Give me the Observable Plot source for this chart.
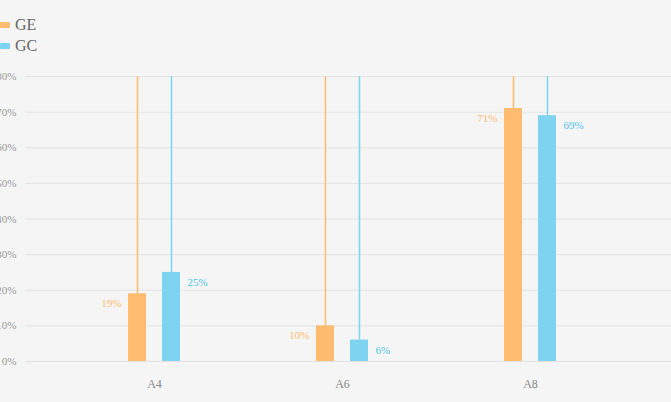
<!DOCTYPE html>
<html>
<head>
<meta charset="utf-8">
<script src="https://cdn.jsdelivr.net/npm/d3@7"></script>
<script src="https://cdn.jsdelivr.net/npm/@observablehq/plot@0.6"></script>
<style>
  html, body { margin: 0; padding: 0; background: #f5f5f5; }
  #wrap { position: relative; width: 671px; height: 402px; overflow: hidden; background: #f5f5f5; font-family: "Liberation Serif", "DejaVu Serif", serif; }
  #legend { position: relative; height: 65px; }
  .item { position: absolute; left: 0; display: flex; align-items: center; font-size: 16px; color: #666; }
  .sw { width: 10px; height: 6px; margin-right: 5px; border-radius: 1px; }
  svg { overflow: visible; }
</style>
</head>
<body>
<div id="wrap">
  <div id="legend"></div>
  <div id="chart"></div>
</div>
<script>
const categories = ["A4", "A6", "A8"];
const seriesNames = ["GE", "GC"];
const geValues = [19, 10, 71];
const gcValues = [25, 6, 69];
const yTicks = [0, 10, 20, 30, 40, 50, 60, 70, 80];
const colors = {GE: "#ffbb6e", GC: "#7dd3f0"};

const legend = document.getElementById("legend");
seriesNames.forEach((s, i) => {
  const it = document.createElement("div");
  it.className = "item";
  it.style.top = (i === 0 ? 16 : 37) + "px";
  it.innerHTML = `<span class="sw" style="background:${colors[s]}"></span><span>${s}</span>`;
  legend.appendChild(it);
});

const ge = categories.map((c, i) => ({cat: c, v: geValues[i]}));
const gc = categories.map((c, i) => ({cat: c, v: gcValues[i]}));
const yMax = yTicks[yTicks.length - 1];

const plot = Plot.plot({
  width: 671,
  height: 337,
  marginLeft: 25,
  marginRight: 0,
  marginTop: 11,
  marginBottom: 41,
  style: {background: "transparent", fontFamily: "Liberation Serif, serif", overflow: "visible"},
  x: {domain: categories, paddingInner: 0.9045, paddingOuter: 0.666, align: 0.476, label: null},
  y: {domain: [0, yMax], label: null},
  marks: [
    Plot.ruleY(yTicks, {stroke: "#e3e3e3", strokeWidth: 1}),
    Plot.axisY({ticks: yTicks, tickSize: 0, tickPadding: 9, tickFormat: d => d + "%", fill: "#999", fontSize: 11, label: null}),
    Plot.axisX({tickSize: 0, tickPadding: 18, fill: "#888", fontSize: 12, label: null}),
    Plot.ruleX(ge, {x: "cat", y1: "v", y2: () => yMax, dx: -17, stroke: colors.GE, strokeWidth: 1.5}),
    Plot.ruleX(gc, {x: "cat", y1: "v", y2: () => yMax, dx: 17, stroke: colors.GC, strokeWidth: 1.5}),
    Plot.barY(ge, {x: "cat", y: "v", dx: -17, fill: colors.GE}),
    Plot.barY(gc, {x: "cat", y: "v", dx: 17, fill: colors.GC}),
    Plot.text(ge, {x: "cat", y: "v", text: d => d.v + "%", dx: -33, dy: 10, textAnchor: "end", fill: colors.GE, fontSize: 11}),
    Plot.text(gc, {x: "cat", y: "v", text: d => d.v + "%", dx: 33, dy: 10, textAnchor: "start", fill: "#4fc3ea", fontSize: 11})
  ]
});
document.getElementById("chart").appendChild(plot);
</script>
</body>
</html>
